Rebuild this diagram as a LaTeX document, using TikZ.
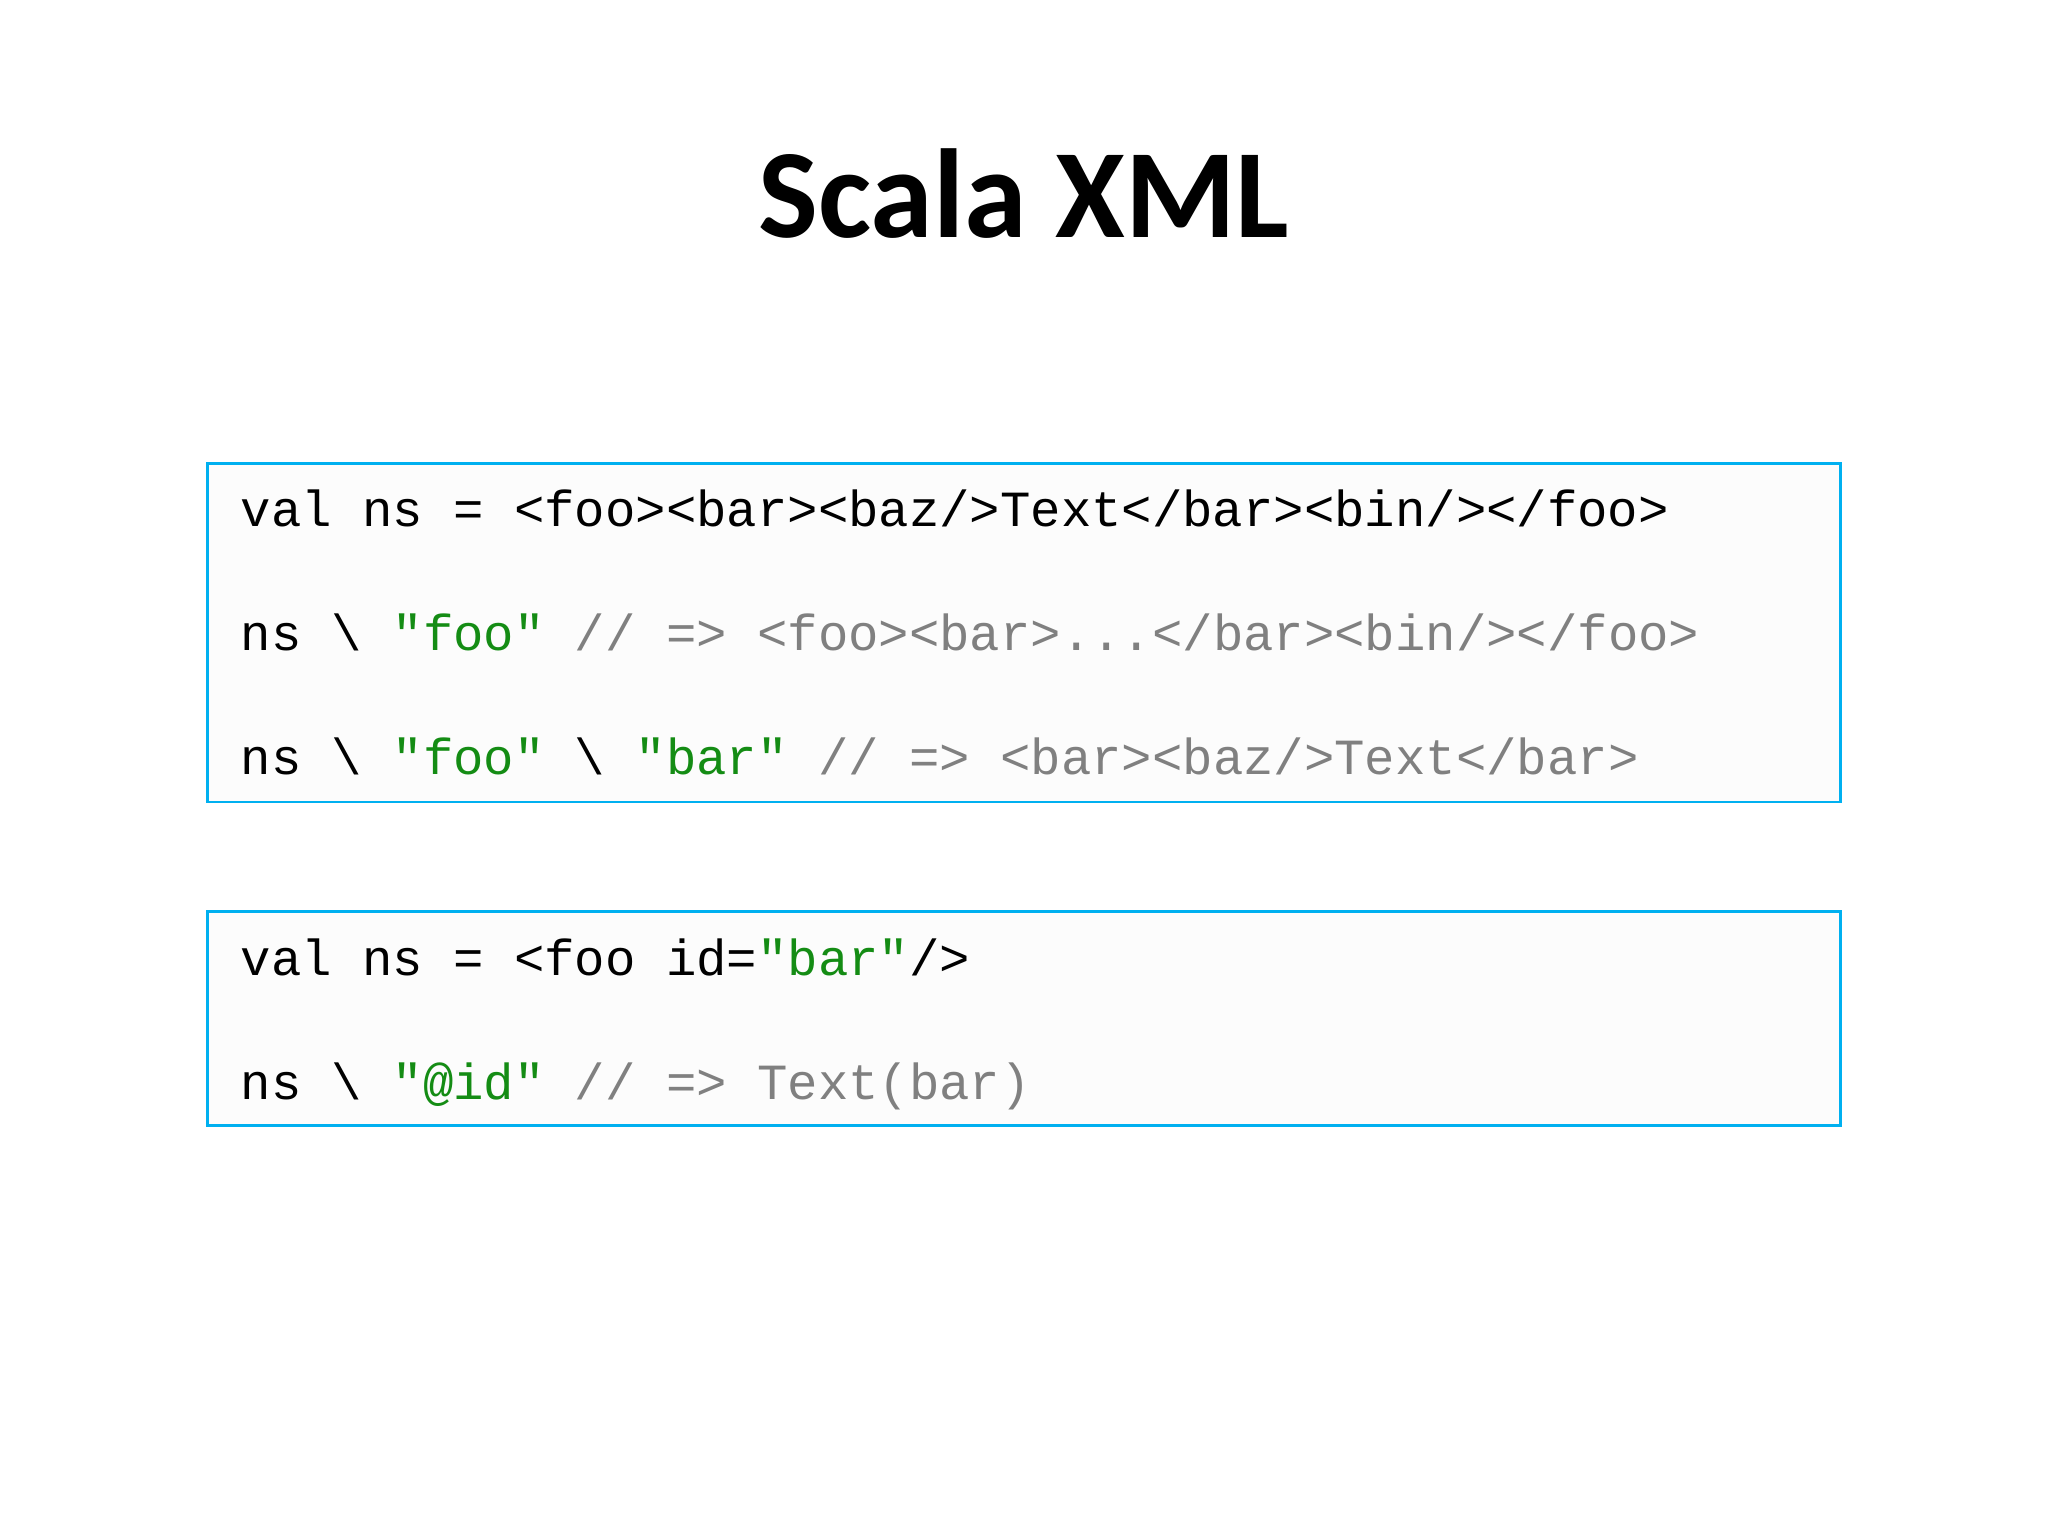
\documentclass[tikz,border=0pt]{standalone}
\usepackage{fontspec}
\setmainfont{Carlito}
\newfontfamily\codefont{Liberation Mono}
\definecolor{boxblue}{RGB}{0,176,240}
\definecolor{strgreen}{RGB}{20,140,20}
\definecolor{cmtgray}{RGB}{128,128,128}
\begin{document}
\begin{tikzpicture}[x=0.65pt,y=-0.65pt,
  codebox/.style={draw=boxblue,line width=1.4pt,fill=black!1},
  codeline/.style={anchor=base west,inner sep=0pt,font=\codefont\fontsize{25.2pt}{30pt}\selectfont}]
\useasboundingbox (0,0) rectangle (1568,1176);
\node[font=\bfseries\fontsize{63pt}{75pt}\selectfont] (title) at (784,148) {Scala XML};
\draw[codebox] (159,355) rectangle (1409,614);
\draw[codebox] (159,698) rectangle (1409,862);
\node[codeline] (l1) at (184,403) {val ns = <foo><bar><baz/>Text</bar><bin/></foo>};
\node[codeline] (l2) at (184,498) {ns \textbackslash{} \textcolor{strgreen}{"foo"} \textcolor{cmtgray}{// => <foo><bar>...</bar><bin/></foo>}};
\node[codeline] (l3) at (184,593) {ns \textbackslash{} \textcolor{strgreen}{"foo"} \textbackslash{} \textcolor{strgreen}{"bar"} \textcolor{cmtgray}{// => <bar><baz/>Text</bar>}};
\node[codeline] (l4) at (184,747) {val ns = <foo id=\textcolor{strgreen}{"bar"}/>};
\node[codeline] (l5) at (184,842) {ns \textbackslash{} \textcolor{strgreen}{"@id"} \textcolor{cmtgray}{// => Text(bar)}};
\end{tikzpicture}
\end{document}
